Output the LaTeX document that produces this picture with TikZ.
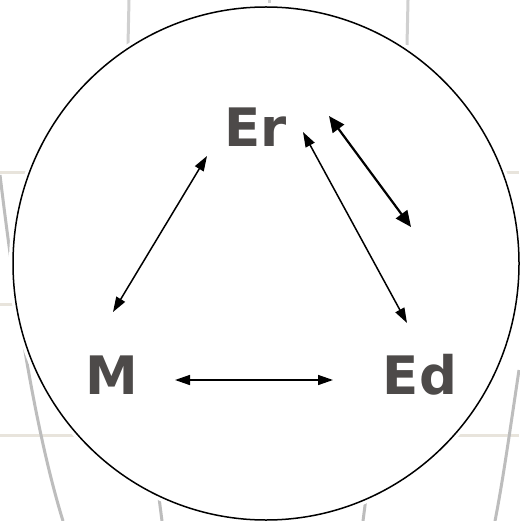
\documentclass[tikz,border=0pt]{standalone}
\usepackage{fontspec}
\setmainfont{DejaVu Sans}
\usetikzlibrary{arrows.meta}
\definecolor{txtgray}{HTML}{4D4A49}
\definecolor{meridian}{HTML}{BDBDBD}
\definecolor{meridianlight}{HTML}{D0D0D0}
\definecolor{parallel}{HTML}{E8E4DC}
\tikzset{
  lbl/.style={font=\fontsize{53}{60}\selectfont\bfseries, text=txtgray, inner sep=0pt, anchor=base},
  thinarrow/.style={line width=1.5pt, {Triangle[length=15pt,width=10pt]}-{Triangle[length=15pt,width=10pt]}},
  thickarrow/.style={line width=2.2pt, {Triangle[length=16pt,width=14pt]}-{Triangle[length=16pt,width=14pt]}},
  meridianline/.style={draw=meridian, line width=3pt},
  parallelline/.style={draw=parallel, line width=3pt},
}
\begin{document}
\begin{tikzpicture}[x=1pt,y=-1pt]
\useasboundingbox (0,0) rectangle (519,521);
\fill[white] (0,0) rectangle (519,521);
% background grid
\draw[parallelline] (0,173) -- (519,173);
\draw[parallelline] (0,304) -- (519,304);
\draw[parallelline] (0,435) -- (519,435);
\draw[meridianline] (0,175) .. controls (15,300) and (35,430) .. (63,521);
\draw[meridianline] (519,370) .. controls (510,430) and (503,480) .. (495,521);
\draw[draw=meridianlight, line width=3pt] (129,0) -- (128,45);
\draw[draw=meridianlight, line width=3pt] (269,0) -- (269,10);
\draw[draw=meridianlight, line width=3pt] (408,0) -- (407,45);
\draw[meridianline] (158,490) -- (162,521);
\draw[meridianline] (367,490) -- (363,521);
% circle
\fill[white] (266,263.5) ellipse [x radius=257, y radius=260.5];
\draw[line width=1.5pt] (266,263.5) ellipse [x radius=253, y radius=256.5];
% labels
\node[lbl] (Er) at (255.5,147) {Er};
\node[lbl] (M) at (112,394) {M};
\node[lbl] (Ed) at (420,394) {Ed};
% arrow end points
\coordinate (erm1) at (207,156);
\coordinate (erm2) at (113,312);
\coordinate (ered1) at (303,132);
\coordinate (ered2) at (407,323);
\coordinate (erx1) at (329,116);
\coordinate (erx2) at (411,227);
\coordinate (med1) at (175,380);
\coordinate (med2) at (333,380);
\draw[thinarrow] (erm1) -- (erm2);
\draw[thinarrow] (ered1) -- (ered2);
\draw[thickarrow] (erx1) -- (erx2);
\draw[thinarrow] (med1) -- (med2);
\end{tikzpicture}
\end{document}
